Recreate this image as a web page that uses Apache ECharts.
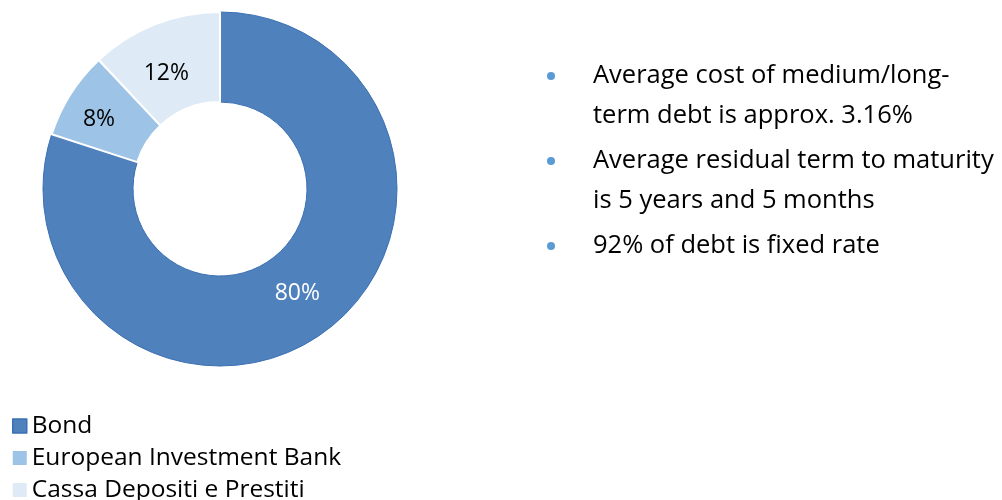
<!DOCTYPE html>
<html><head><meta charset="utf-8">
<script src="https://cdn.jsdelivr.net/npm/echarts@6/dist/echarts.min.js"></script>
<style>html,body{margin:0;padding:0;background:#fff}#c{width:1002px;height:500px}</style>
</head><body><div id="c"></div>
<script>
var categories = ["Bond", "European Investment Bank", "Cassa Depositi e Prestiti"];
var values = [80, 8, 12];
var sliceColors = ["#4F81BD", "#9DC3E6", "#DEEBF7"];
var borderColors = ["#3A6FB3", "#ffffff", "#ffffff"];
var labelColors = ["#ffffff", "#000000", "#000000"];
var labelOffsets = [[-2, -5], [-7, 3], [-4, 10]];
var bullets = [
  ["Average cost of medium/long-", "term debt is approx. 3.16%"],
  ["Average residual term to maturity", "is 5 years and 5 months"],
  ["92% of debt is fixed rate"]
];
var FONT = "'Open Sans', sans-serif";

var chart = echarts.init(document.getElementById('c'), null, {renderer: 'canvas'});

var data = categories.map(function (n, i) {
  return {
    name: n, value: values[i],
    itemStyle: {color: sliceColors[i], borderColor: borderColors[i], borderWidth: i === 0 ? 1 : 2},
    label: {color: labelColors[i], offset: labelOffsets[i]}
  };
});

var legendData = categories.map(function (n, i) {
  return i === 0
    ? {name: n, itemStyle: {borderColor: borderColors[0], borderWidth: 1.5}}
    : {name: n, itemStyle: {borderWidth: 0}};
});

var graphics = [];
var y = 76;
bullets.forEach(function (lines, bi) {
  graphics.push({type: 'circle', shape: {cx: 551, cy: y, r: 4}, style: {fill: '#5B9BD5'}, silent: true});
  lines.forEach(function (t, li) {
    graphics.push({type: 'text', x: 593, y: y, style: {text: t, font: '25.5px ' + FONT, fill: '#000', verticalAlign: 'middle'}, silent: true});
    if (li < lines.length - 1) y += 40;
  });
  y += 45;
});

chart.setOption({
  animation: false,
  legend: {
    orient: 'vertical', left: 12, top: 410, height: 100, padding: 0,
    itemWidth: 14, itemHeight: 14, itemGap: 0,
    icon: 'rect',
    data: legendData,
    textStyle: {fontFamily: FONT, fontSize: 24.5, color: '#000', lineHeight: 32}
  },
  series: [{
    type: 'pie',
    center: [220, 189],
    radius: [87, 177],
    startAngle: 90,
    clockwise: true,
    avoidLabelOverlap: false,
    label: {show: true, position: 'inside', formatter: '{c}%', fontFamily: FONT, fontSize: 23},
    labelLine: {show: false},
    emphasis: {disabled: true},
    data: data
  }],
  graphic: graphics
});
</script></body></html>
